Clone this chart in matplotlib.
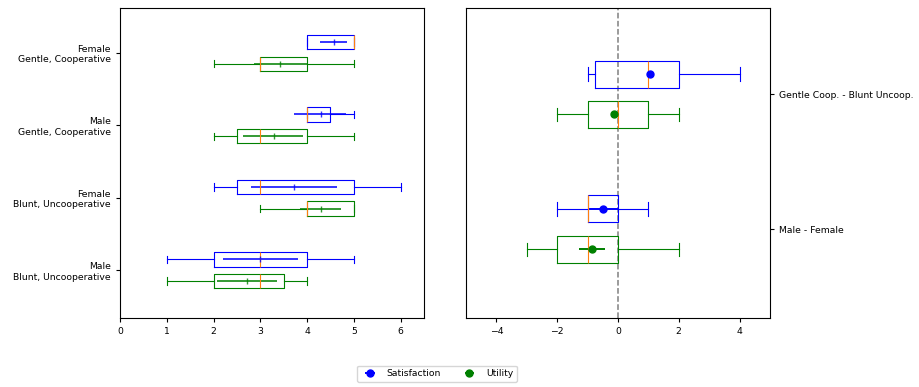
import matplotlib.pyplot as plt

# Ratings per group (top to bottom in the left panel)
groups = ["Female\nGentle, Cooperative", "Male\nGentle, Cooperative",
          "Female\nBlunt, Uncooperative", "Male\nBlunt, Uncooperative"]

sat_q1 = [4, 4, 2.5, 2]
sat_med = [5, 4, 3, 3]
sat_q3 = [5, 4.5, 5, 4]
sat_lo = [4, 4, 2, 1]
sat_hi = [5, 5, 6, 5]
sat_mean = [4.57, 4.29, 3.71, 3.0]
sat_ci_lo = [4.28, 3.73, 2.79, 2.2]
sat_ci_hi = [4.86, 4.84, 4.63, 3.8]

util_q1 = [3, 2.5, 4, 2]
util_med = [3, 3, 4, 3]
util_q3 = [4, 4, 5, 3.5]
util_lo = [2, 2, 3, 1]
util_hi = [5, 5, 5, 4]
util_mean = [3.43, 3.29, 4.29, 2.71]
util_ci_lo = [2.86, 2.64, 3.85, 2.08]
util_ci_hi = [4.0, 3.92, 4.72, 3.35]

# Differences (right panel, top to bottom)
diffs = ["Gentle Coop. - Blunt Uncoop.", "Male - Female"]

dsat_q1 = [-0.75, -1]
dsat_med = [1, -1]
dsat_q3 = [2, 0]
dsat_lo = [-1, -2]
dsat_hi = [4, 1]
dsat_mean = [1.07, -0.49]
dsat_ci_lo = [0.95, -0.98]
dsat_ci_hi = [1.2, 0.0]

dutil_q1 = [-1, -2]
dutil_med = [0, -1]
dutil_q3 = [1, 0]
dutil_lo = [-2, -3]
dutil_hi = [2, 2]
dutil_mean = [-0.14, -0.85]
dutil_ci_lo = [-0.2, -1.28]
dutil_ci_hi = [-0.08, -0.42]

FS = 6.7
LW = 0.8


def stats(q1, med, q3, lo, hi):
    return [dict(q1=a, med=b, q3=c, whislo=d, whishi=e, fliers=[])
            for a, b, c, d, e in zip(q1, med, q3, lo, hi)]


def draw_boxes(ax, st, pos, color):
    ax.bxp(st, positions=pos, vert=False, widths=0.2, showfliers=False,
           boxprops=dict(color=color, lw=LW), whiskerprops=dict(color=color, lw=LW),
           capprops=dict(color=color, lw=LW), medianprops=dict(color="#ff7f0e", lw=LW),
           manage_ticks=False)


fig = plt.figure(figsize=(9.19, 3.87), dpi=100)
ax1 = fig.add_axes([0.1306, 0.1783, 0.3308, 0.801])
ax2 = fig.add_axes([0.507, 0.1783, 0.3308, 0.801])

# left panel
n = len(groups)
ypos = [n - 1 - i for i in range(n)]
sat_pos = [y + 0.15 for y in ypos]
util_pos = [y - 0.15 for y in ypos]
draw_boxes(ax1, stats(sat_q1, sat_med, sat_q3, sat_lo, sat_hi), sat_pos, "blue")
draw_boxes(ax1, stats(util_q1, util_med, util_q3, util_lo, util_hi), util_pos, "green")
ax1.errorbar(sat_mean, sat_pos,
             xerr=[[m - l for m, l in zip(sat_mean, sat_ci_lo)], [h - m for m, h in zip(sat_mean, sat_ci_hi)]],
             fmt="|", color="blue", ms=5, elinewidth=1.4, alpha=0.8)
ax1.errorbar(util_mean, util_pos,
             xerr=[[m - l for m, l in zip(util_mean, util_ci_lo)], [h - m for m, h in zip(util_mean, util_ci_hi)]],
             fmt="|", color="green", ms=5, elinewidth=1.4, alpha=0.8)
ax1.set_yticks(ypos)
ax1.set_yticklabels(groups)
ax1.set_xlim(0, 6.5)
ax1.set_ylim(-0.66, n - 1 + 0.62)
ax1.set_xticks(range(7))
ax1.tick_params(labelsize=FS, width=LW, length=3)

# right panel
m = len(diffs)
dpos = [m - 1 - i for i in range(m)]
dsat_pos = [y + 0.15 for y in dpos]
dutil_pos = [y - 0.15 for y in dpos]
ax2.axvline(0, color="grey", ls="--", lw=1.1)
draw_boxes(ax2, stats(dsat_q1, dsat_med, dsat_q3, dsat_lo, dsat_hi), dsat_pos, "blue")
draw_boxes(ax2, stats(dutil_q1, dutil_med, dutil_q3, dutil_lo, dutil_hi), dutil_pos, "green")
h1 = ax2.errorbar(dsat_mean, dsat_pos,
                  xerr=[[a - b for a, b in zip(dsat_mean, dsat_ci_lo)], [b - a for a, b in zip(dsat_mean, dsat_ci_hi)]],
                  fmt="o", color="blue", ms=5, elinewidth=1.4)
h2 = ax2.errorbar(dutil_mean, dutil_pos,
                  xerr=[[a - b for a, b in zip(dutil_mean, dutil_ci_lo)], [b - a for a, b in zip(dutil_mean, dutil_ci_hi)]],
                  fmt="o", color="green", ms=5, elinewidth=1.4)
ax2.set_yticks(dpos)
ax2.set_yticklabels(diffs)
ax2.yaxis.tick_right()
ax2.set_xlim(-5, 5)
ax2.set_ylim(-0.66, m - 1 + 0.64)
ax2.set_xticks([-4, -2, 0, 2, 4])
ax2.tick_params(labelsize=FS, width=LW, length=3)

for ax in (ax1, ax2):
    for s in ax.spines.values():
        s.set_linewidth(LW)

fig.legend([h1, h2], ["Satisfaction", "Utility"], loc="center", bbox_to_anchor=(0.4755, 0.034),
           ncol=2, fontsize=FS, frameon=True)

fig.savefig("out.png", dpi=100)
